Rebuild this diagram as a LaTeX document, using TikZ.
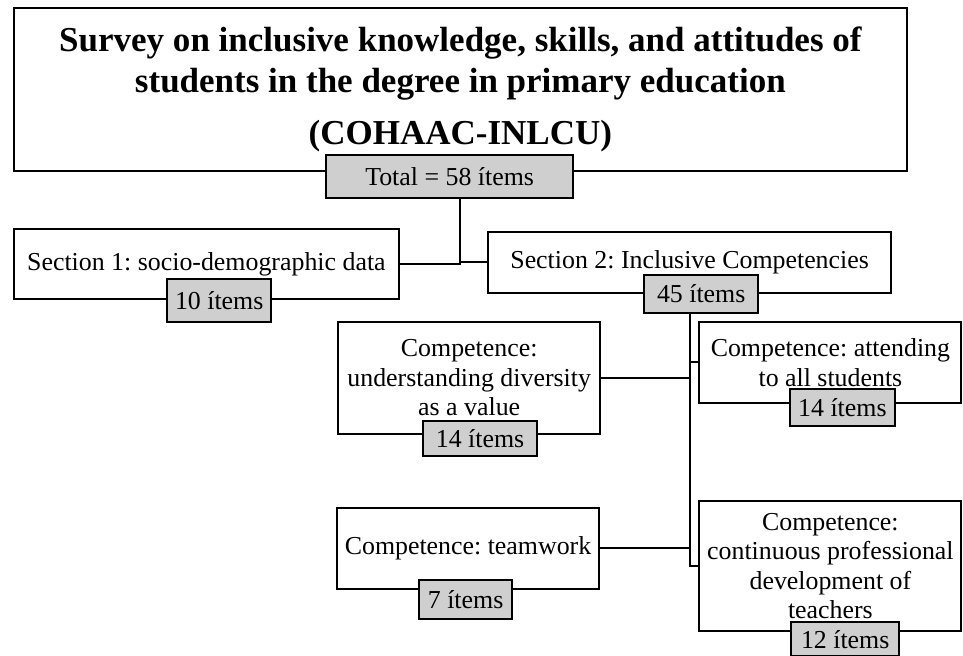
\documentclass[tikz,border=0pt]{standalone}
\usepackage{fontspec}
\setmainfont{Liberation Serif}
\usepackage{xcolor}
\usepackage{tikz}

\definecolor{countgray}{RGB}{207,207,207}

\frenchspacing
\begin{document}
\begin{tikzpicture}[line width=1.4pt]
    \tikzstyle{block}=[draw, fill=white, align=center, inner sep=0pt,
        font=\fontsize{18.4}{21}\selectfont]
    \tikzstyle{count}=[draw, fill=countgray, inner sep=0pt,
        font=\fontsize{18.4}{21}\selectfont]
    \useasboundingbox (0,0) rectangle (24.075,-16.4);
    \node[block, minimum width=22.33cm, minimum height=4.08cm,
        font=\fontsize{24.9}{29}\selectfont\bfseries] (survey) at (11.51,-2.24)
        {Survey on inclusive knowledge, skills, and attitudes of\\
         students in the degree in primary education\\[8pt]
         (COHAAC-INLCU)};
    \node[block, minimum width=9.63cm, minimum height=1.75cm] (sec1) at (5.16,-6.60)
        {Section 1: socio-demographic data};
    \node[block, minimum width=10.08cm, minimum height=1.53cm] (sec2) at (17.24,-6.56)
        {Section 2: Inclusive Competencies};
    \node[block, minimum width=6.55cm, minimum height=2.8cm] (div) at (11.73,-9.45)
        {Competence:\\ understanding diversity\\ as a value};
    \node[block, minimum width=6.55cm, minimum height=2.03cm] (att) at (20.76,-9.06)
        {Competence: attending\\ to all students};
    \node[block, minimum width=6.55cm, minimum height=2.03cm] (team) at (11.70,-13.71)
        {Competence: teamwork};
    \node[block, minimum width=6.55cm, minimum height=3.25cm] (cont) at (20.76,-14.15)
        {Competence:\\ continuous professional\\ development of\\ teachers};
    % tree lines
    \draw (survey.south) |- (sec1.east);
    \draw (survey.south) |- (sec2.west);
    \draw (sec2.south) |- (att.west);
    \draw (sec2.south) |- (div.east);
    \draw (sec2.south) |- (team.east);
    \draw (sec2.south) |- (cont.west);
    % item counts on top
    \node[count, minimum width=6.18cm, minimum height=1.08cm] (total) at (11.24,-4.41) {Total = 58 ítems};
    \node[count, minimum width=2.6cm, minimum height=1.08cm] (n10) at (5.48,-7.51) {10 ítems};
    \node[count, minimum width=2.85cm, minimum height=0.95cm] (n45) at (17.53,-7.35) {45 ítems};
    \node[count, minimum width=2.85cm, minimum height=0.88cm] (n14a) at (12.0,-10.96) {14 ítems};
    \node[count, minimum width=2.63cm, minimum height=0.93cm] (n14b) at (21.06,-10.19) {14 ítems};
    \node[count, minimum width=2.33cm, minimum height=0.98cm] (n7) at (11.64,-14.99) {7 ítems};
    \node[count, minimum width=2.7cm, minimum height=0.84cm] (n12) at (21.13,-15.98) {12 ítems};
\end{tikzpicture}
\end{document}
